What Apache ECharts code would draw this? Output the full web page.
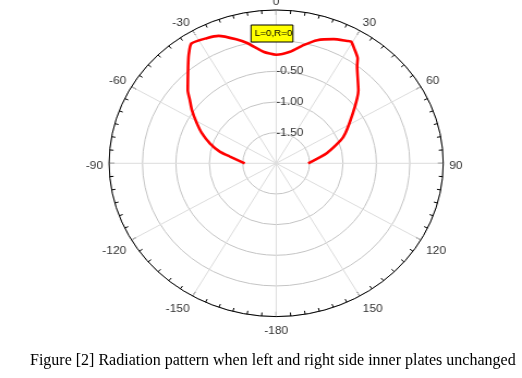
<!DOCTYPE html>
<html>
<head>
<meta charset="utf-8">
<script src="https://cdn.jsdelivr.net/npm/echarts@6/dist/echarts.min.js"></script>
<style>
html,body{margin:0;padding:0;background:#fff;width:522px;height:378px;overflow:hidden;position:relative}
#c{position:absolute;left:0;top:0;width:479px;height:378px;transform:scaleX(1.0898);transform-origin:0 0}
#cap{position:absolute;left:0;top:340px;width:522px;height:38px}
</style>
</head>
<body>
<div id="c"></div>
<div id="cap"></div>
<script>
// Angles (degrees, 0 at top, clockwise positive) and radial values
var angles = [-90, -81, -77.5, -72, -66, -61, -55.5, -51.5, -48, -40, -36.5, -33, -27, -22.5, -16.5, -12.5, -6, 0, 6.5, 12, 17, 23, 28, 29.5, 32.5, 35.5, 37.5, 46, 54.5, 67, 77.5, 90];
var values = [-1.53, -1.30, -1.14, -0.96, -0.78, -0.64, -0.47, -0.35, -0.22, 0.05, 0.20, 0.33, 0.29, 0.25, 0.11, 0.01, -0.17, -0.23, -0.17, -0.03, 0.10, 0.20, 0.26, 0.28, 0.19, 0.10, -0.01, -0.29, -0.59, -0.91, -1.22, -1.52];
var radialLabels = [-1.5, -1.0, -0.5];
var seriesName = 'L=0,R=0';
var caption = 'Figure [2] Radiation pattern when left and right side inner plates unchanged';

var data = angles.map(function (a, i) { return [values[i], a < 0 ? a + 360 : a]; });

var angleBase = {
  type: 'value', min: 0, max: 360, interval: 30,
  startAngle: 90, clockwise: true
};

var chart = echarts.init(document.getElementById('c'), null, {renderer: 'canvas'});
chart.setOption({
  animation: false,
  legend: {
    data: [{name: seriesName, icon: 'none'}],
    left: 230.3, top: 25,
    itemWidth: 0, itemHeight: 0,
    backgroundColor: '#ffff00',
    borderColor: '#000', borderWidth: 1, borderRadius: 0,
    padding: [4, 0.5, 4, -1.5],
    textStyle: {fontFamily: 'Liberation Sans', fontSize: 9, color: '#000'}
  },
  polar: [
    {center: [253.4, 163.3], radius: 153.3},
    {center: [253.4, 166.3], radius: 153.3}
  ],
  angleAxis: [
    Object.assign({}, angleBase, {
      polarIndex: 0,
      axisLine: {show: true, lineStyle: {color: '#000', width: 1}},
      axisTick: {show: true, inside: true, length: 5, lineStyle: {color: '#000'}},
      minorTick: {show: true, splitNumber: 6, length: 3.5, lineStyle: {color: '#000'}},
      axisLabel: {show: false},
      splitLine: {show: true, lineStyle: {color: '#dcdcdc', width: 1}}
    }),
    Object.assign({}, angleBase, {
      polarIndex: 1,
      axisLine: {show: false}, axisTick: {show: false}, splitLine: {show: false},
      axisLabel: {
        margin: 5.5, color: '#333', fontFamily: 'Liberation Sans', fontSize: 11,
        formatter: function (v) { return String(v >= 180 ? v - 360 : v); }
      }
    })
  ],
  radiusAxis: [
    {
      polarIndex: 0,
      type: 'value', min: -2, max: 0.5, interval: 0.5,
      axisLine: {show: false}, axisTick: {show: false},
      axisLabel: {
        margin: 0, align: 'left', verticalAlign: 'middle',
        color: '#333', fontFamily: 'Liberation Sans', fontSize: 11,
        formatter: function (v) {
          for (var i = 0; i < radialLabels.length; i++) if (Math.abs(radialLabels[i] - v) < 1e-9) return v.toFixed(2);
          return '';
        }
      },
      splitLine: {show: true, lineStyle: {color: '#c4c4c4', width: 1}}
    },
    {
      polarIndex: 1, type: 'value', min: -2, max: 0.5,
      axisLine: {show: false}, axisTick: {show: false}, axisLabel: {show: false}, splitLine: {show: false}
    }
  ],
  series: [{
    name: seriesName, type: 'line', coordinateSystem: 'polar', polarIndex: 0,
    data: data, smooth: 0.2, showSymbol: false,
    lineStyle: {color: '#ff0000', width: 2.6}, itemStyle: {color: '#ff0000'}
  }]
});

var cap = echarts.init(document.getElementById('cap'), null, {renderer: 'canvas'});
cap.setOption({
  animation: false,
  title: {
    text: caption,
    left: 30,
    top: 13,
    padding: 0,
    textStyle: {fontFamily: 'Liberation Serif', fontSize: 16, fontWeight: 'normal', color: '#000'}
  }
});
</script>
</body>
</html>
